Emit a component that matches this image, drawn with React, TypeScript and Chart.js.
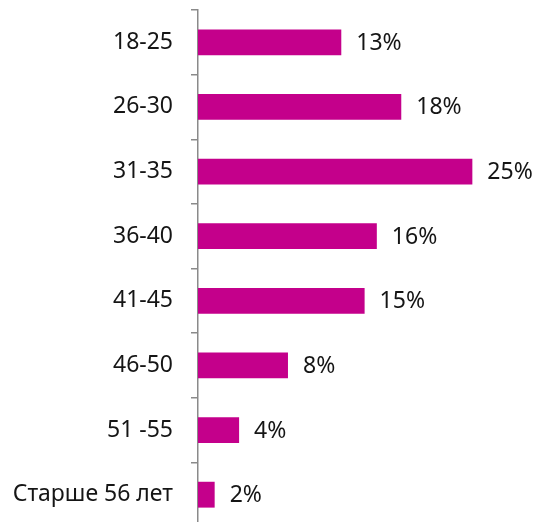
import React, { useEffect, useRef } from "react";
import { Chart, registerables } from "chart.js";

Chart.register(...registerables);

const categories = ["18-25", "26-30", "31-35", "36-40", "41-45", "46-50", "51 -55", "Старше 56 лет"];
const shares = [12.9, 18.3, 24.7, 16.1, 15.0, 8.1, 3.7, 1.5];
const shareLabels = ["13%", "18%", "25%", "16%", "15%", "8%", "4%", "2%"];

const BAR_COLOR = "#C4008B";
const FONT = "'Noto Sans', sans-serif";

const valueLabelPlugin = {
  id: "valueLabels",
  afterDatasetsDraw(chart: any) {
    const ctx = chart.ctx;
    const meta = chart.getDatasetMeta(0);
    ctx.save();
    ctx.font = `23px ${FONT}`;
    ctx.fillStyle = "#151515";
    ctx.textAlign = "left";
    ctx.textBaseline = "middle";
    meta.data.forEach((bar: any, i: number) => {
      ctx.fillText(shareLabels[i], bar.x + 15, bar.y + 1);
    });
    ctx.restore();
  },
};

export default function App() {
  const ref = useRef<HTMLCanvasElement | null>(null);
  useEffect(() => {
    if (!ref.current) return;
    const chart = new Chart(ref.current, {
      type: "bar",
      data: {
        labels: categories,
        datasets: [
          {
            data: shares,
            backgroundColor: BAR_COLOR,
            borderWidth: 0,
            categoryPercentage: 1,
            barPercentage: 0.4,
          },
        ],
      },
      options: {
        indexAxis: "y",
        animation: false,
        responsive: false,
        maintainAspectRatio: false,
        layout: { padding: { top: 10, bottom: 8, left: 0, right: 0 } },
        plugins: {
          legend: { display: false },
          tooltip: { enabled: false },
        },
        scales: {
          x: {
            display: false,
            min: 0,
            max: 30.7,
          },
          y: {
            offset: true,
            grid: {
              offset: true,
              drawOnChartArea: false,
              drawTicks: true,
              tickLength: 7,
              color: "#8a8a8a",
              lineWidth: 1.5,
            },
            border: { display: true, color: "#8a8a8a", width: 1.5 },
            ticks: {
              color: "#151515",
              padding: 18,
              font: { family: FONT, size: 23 },
            },
            afterFit(scale: any) {
              scale.width = 198;
              scale.paddingTop = 0;
              scale.paddingBottom = 0;
            },
          },
        },
      },
      plugins: [valueLabelPlugin],
    });
    return () => chart.destroy();
  }, []);
  return (
    <div style={{ position: "fixed", left: 0, top: 0, width: 539, height: 522, overflow: "hidden", background: "#fff" }}>
      <canvas ref={ref} width={539} height={535} style={{ display: "block" }} />
    </div>
  );
}
